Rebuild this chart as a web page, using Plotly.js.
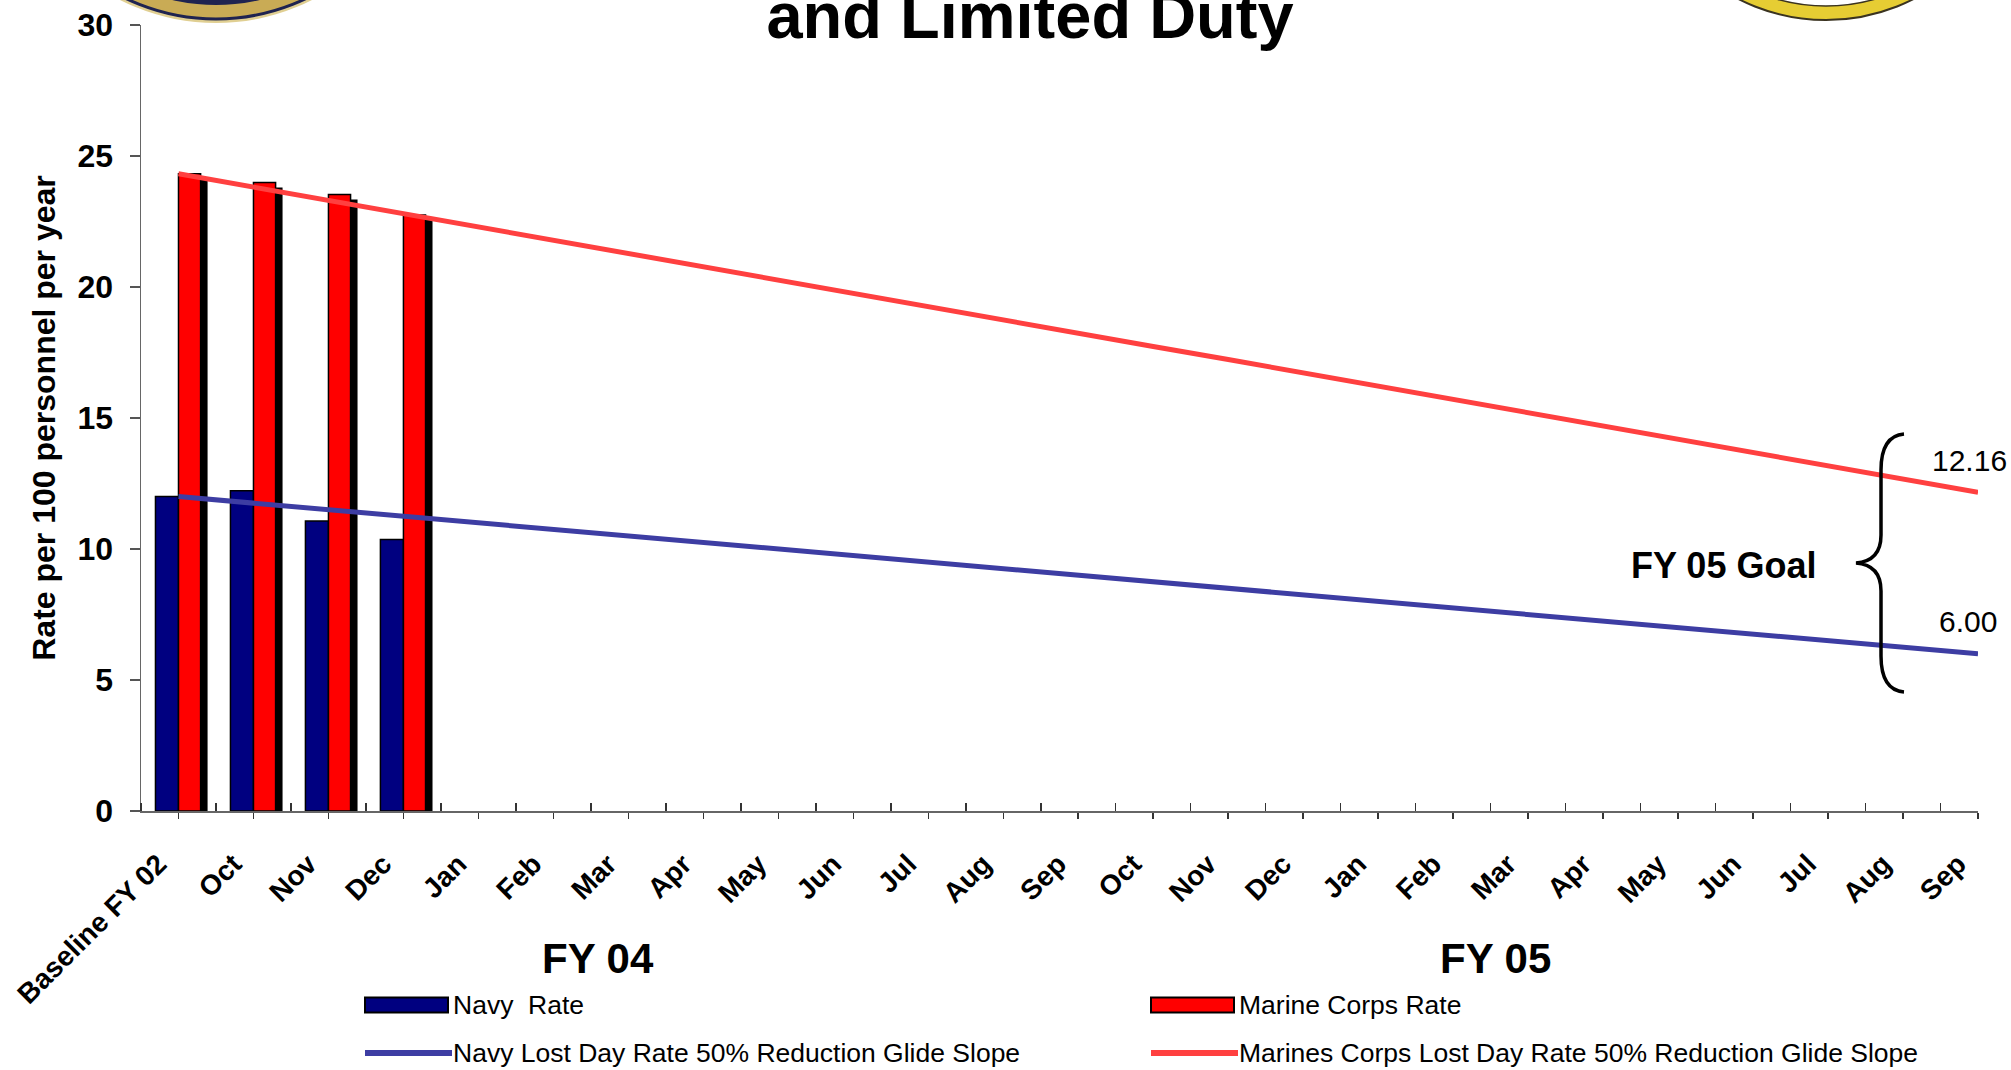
<!DOCTYPE html>
<html>
<head>
<meta charset="utf-8">
<script src="https://cdn.plot.ly/plotly-3.0.1.min.js"></script>
<style>
html,body{margin:0;padding:0;background:#fff;}
#chart{width:2011px;height:1070px;}
</style>
</head>
<body>
<div id="chart"></div>
<script>
// ---- data ----
const categories = ['Baseline FY 02','Oct','Nov','Dec','Jan','Feb','Mar','Apr','May','Jun','Jul','Aug','Sep',
                    'Oct','Nov','Dec','Jan','Feb','Mar','Apr','May','Jun','Jul','Aug','Sep'];
const navyRate   = [12.00, 12.22, 11.07, 10.36];
const marineRate = [24.32, 23.99, 23.53, 22.75];
const navyGlide  = [12.00, 11.75, 11.50, 11.25, 11.00, 10.75, 10.50, 10.25, 10.00, 9.75, 9.50, 9.25, 9.00,
                    8.75, 8.50, 8.25, 8.00, 7.75, 7.50, 7.25, 7.00, 6.75, 6.50, 6.25, 6.00];
const marineGlide = [24.32, 23.81, 23.31, 22.80, 22.29, 21.79, 21.28, 20.77, 20.27, 19.76, 19.25, 18.75, 18.24,
                     17.73, 17.23, 16.72, 16.21, 15.71, 15.20, 14.69, 14.19, 13.68, 13.17, 12.67, 12.16];
const yTicks = [0, 5, 10, 15, 20, 25, 30];
const seriesNames = ['Navy\u00a0 Rate', 'Marine Corps Rate',
                     'Navy Lost Day Rate 50% Reduction Glide Slope',
                     'Marines Corps Lost Day Rate 50% Reduction Glide Slope'];
const fyLabels = ['FY 04', 'FY 05'];
const goalLabel = 'FY 05 Goal';
const titleText = 'and Limited Duty';
const yTitle = 'Rate per 100 personnel per year';

// ---- style ----
const FONT = 'Liberation Sans, Arial, Helvetica, sans-serif';
const NAVY = '#000080', RED = '#ff0000', NAVY_LINE = '#3d3da3', RED_LINE = '#ff4040';
const W = 2011, H = 1070;
const M = {l: 141, r: 33, t: 25, b: 259};
const PW = W - M.l - M.r, PH = H - M.t - M.b;
const catPos = categories.map((c, i) => i);
const barPos = navyRate.map((v, i) => i);
const midTicks = [-0.5].concat(catPos.slice(0, -1).map(i => i + 0.5));
// page pixels -> paper fraction (decorations only)
const px = x => (x - M.l) / PW;
const py = y => (H - M.b - y) / PH;
const P = (x, y) => px(x).toFixed(5) + ',' + py(y).toFixed(5);

const traces = [
  { // drop shadow behind the Marine Corps bars
    type: 'bar', x: barPos, y: marineRate, base: -0.19, width: 0.295, offset: 0.093,
    marker: {color: '#000000'}, showlegend: false, hoverinfo: 'skip'
  },
  {
    type: 'bar', name: seriesNames[0], x: barPos, y: navyRate, width: 0.307, offset: -0.307,
    marker: {color: NAVY, line: {color: '#000000', width: 1.5}}, showlegend: false
  },
  {
    type: 'bar', name: seriesNames[1], x: barPos, y: marineRate, width: 0.295, offset: 0,
    marker: {color: RED, line: {color: '#000000', width: 1.5}}, showlegend: false
  },
  {
    type: 'scatter', mode: 'lines', name: seriesNames[2],
    x: catPos, y: navyGlide, line: {color: NAVY_LINE, width: 5}, showlegend: false
  },
  {
    type: 'scatter', mode: 'lines', name: seriesNames[3],
    x: catPos, y: marineGlide, line: {color: RED_LINE, width: 5}, showlegend: false
  }
];

// legend drawn as annotations + swatches, laid out in two columns like the original
const legendCols = [365, 1151];
const legendRows = [1005, 1053];
const legendItems = [
  {name: seriesNames[0], col: 0, row: 0, kind: 'bar', color: NAVY},
  {name: seriesNames[1], col: 1, row: 0, kind: 'bar', color: RED},
  {name: seriesNames[2], col: 0, row: 1, kind: 'line', color: NAVY_LINE},
  {name: seriesNames[3], col: 1, row: 1, kind: 'line', color: RED_LINE}
];
const legendShapes = legendItems.map(it => {
  const x0 = legendCols[it.col], yc = legendRows[it.row];
  if (it.kind === 'bar') {
    return {type: 'rect', xref: 'paper', yref: 'paper', x0: px(x0), x1: px(x0 + 83),
            y0: py(yc - 7.5), y1: py(yc + 7.5), fillcolor: it.color, line: {color: '#000', width: 2}};
  }
  return {type: 'line', xref: 'paper', yref: 'paper', x0: px(x0), x1: px(x0 + 87),
          y0: py(yc), y1: py(yc), line: {color: it.color, width: 6}};
});
const legendTexts = legendItems.map(it => ({
  text: it.name, xref: 'paper', yref: 'paper', x: px(legendCols[it.col] + 87), y: py(legendRows[it.row]),
  xanchor: 'left', yanchor: 'middle', showarrow: false, borderpad: 0,
  font: {family: FONT, size: 26.5, color: '#000'}
}));

const layout = {
  width: W, height: H,
  margin: M,
  paper_bgcolor: '#ffffff', plot_bgcolor: '#ffffff',
  font: {family: FONT, color: '#000'},
  barmode: 'overlay',
  showlegend: false,
  title: {
    text: titleText, x: 1030 / W, xanchor: 'center', xref: 'container',
    y: 1 - 38 / H, yanchor: 'bottom', yref: 'container',
    font: {family: FONT, size: 65, weight: 'bold', color: '#000'}
  },
  xaxis: {
    range: [-0.5, 24], tickmode: 'array', tickvals: catPos, ticktext: categories,
    tickangle: -45, ticks: 'outside', ticklen: 6, tickwidth: 1.5, tickcolor: '#333',
    ticklabelstandoff: 18, ticklabelshift: -20,
    tickfont: {family: FONT, size: 28, weight: 'bold', color: '#000'},
    showline: true, linecolor: '#666', linewidth: 1.5, showgrid: false, zeroline: false,
    minor: {tickmode: 'array', tickvals: midTicks, ticks: 'inside', ticklen: 8,
            tickwidth: 1.5, tickcolor: '#333', showgrid: false},
    automargin: false, fixedrange: true
  },
  yaxis: {
    range: [0, 30], tickmode: 'array', tickvals: yTicks,
    ticks: 'outside', ticklen: 10, tickwidth: 1.5, tickcolor: '#555', ticklabelstandoff: 10,
    tickfont: {family: FONT, size: 32, weight: 'bold', color: '#000'},
    showline: true, linecolor: '#666', linewidth: 1.5, showgrid: false, zeroline: false,
    title: {text: yTitle, standoff: 12,
            font: {family: FONT, size: 32, weight: 'bold', color: '#000'}},
    automargin: false, fixedrange: true
  },
  annotations: [
    {text: fyLabels[0], xref: 'paper', yref: 'paper', x: px(598), y: py(958),
     xanchor: 'center', yanchor: 'middle', showarrow: false,
     font: {family: FONT, size: 42, weight: 'bold', color: '#000'}},
    {text: fyLabels[1], xref: 'paper', yref: 'paper', x: px(1495), y: py(958),
     xanchor: 'center', yanchor: 'middle', showarrow: false,
     font: {family: FONT, size: 42, weight: 'bold', color: '#000'}},
    {text: goalLabel, xref: 'paper', yref: 'paper', x: px(1723), y: py(565),
     xanchor: 'center', yanchor: 'middle', showarrow: false,
     font: {family: FONT, size: 36, weight: 'bold', color: '#000'}},
    {text: marineGlide[marineGlide.length - 1].toFixed(2), xref: 'x', yref: 'y',
     x: catPos[catPos.length - 1], y: marineGlide[marineGlide.length - 1],
     xanchor: 'center', yanchor: 'middle', xshift: -9, yshift: 32, showarrow: false,
     font: {family: FONT, size: 30, color: '#000'}},
    {text: navyGlide[navyGlide.length - 1].toFixed(2), xref: 'x', yref: 'y',
     x: catPos[catPos.length - 1], y: navyGlide[navyGlide.length - 1],
     xanchor: 'center', yanchor: 'middle', xshift: -10, yshift: 32, showarrow: false,
     font: {family: FONT, size: 30, color: '#000'}}
  ].concat(legendTexts),
  shapes: [
    // curly brace grouping the two FY 05 goals
    {type: 'path', xref: 'paper', yref: 'paper', line: {color: '#000', width: 3.5},
     path: 'M ' + P(1904, 434) + ' Q ' + P(1881, 436) + ' ' + P(1881, 470) +
           ' L ' + P(1881, 535) + ' Q ' + P(1881, 561) + ' ' + P(1856, 563) +
           ' Q ' + P(1881, 565) + ' ' + P(1881, 591) +
           ' L ' + P(1881, 656) + ' Q ' + P(1881, 690) + ' ' + P(1904, 692)},
    // seal emblems peeking in at the top corners
    {type: 'circle', xref: 'paper', yref: 'paper', layer: 'below',
     x0: px(4), x1: px(428), y0: py(23), y1: py(-401),
     fillcolor: '#e0cf92', line: {width: 0}},
    {type: 'circle', xref: 'paper', yref: 'paper', layer: 'below',
     x0: px(8), x1: px(424), y0: py(19), y1: py(-397),
     fillcolor: '#c9ab55', line: {color: '#1f2350', width: 3}},
    {type: 'circle', xref: 'paper', yref: 'paper', layer: 'below',
     x0: px(22), x1: px(410), y0: py(5), y1: py(-383),
     fillcolor: '#1f2350', line: {width: 0}},
    {type: 'circle', xref: 'paper', yref: 'paper', layer: 'below',
     x0: px(1633), x1: px(2019), y0: py(20), y1: py(-366),
     fillcolor: '#e6cd33', line: {color: '#3a3320', width: 2}},
    {type: 'circle', xref: 'paper', yref: 'paper', layer: 'below',
     x0: px(1647), x1: px(2005), y0: py(6), y1: py(-352),
     fillcolor: '#ffffff', line: {color: '#3a3320', width: 1.5}}
  ].concat(legendShapes)
};

Plotly.newPlot('chart', traces, layout, {displayModeBar: false, staticPlot: true});
</script>
</body>
</html>
